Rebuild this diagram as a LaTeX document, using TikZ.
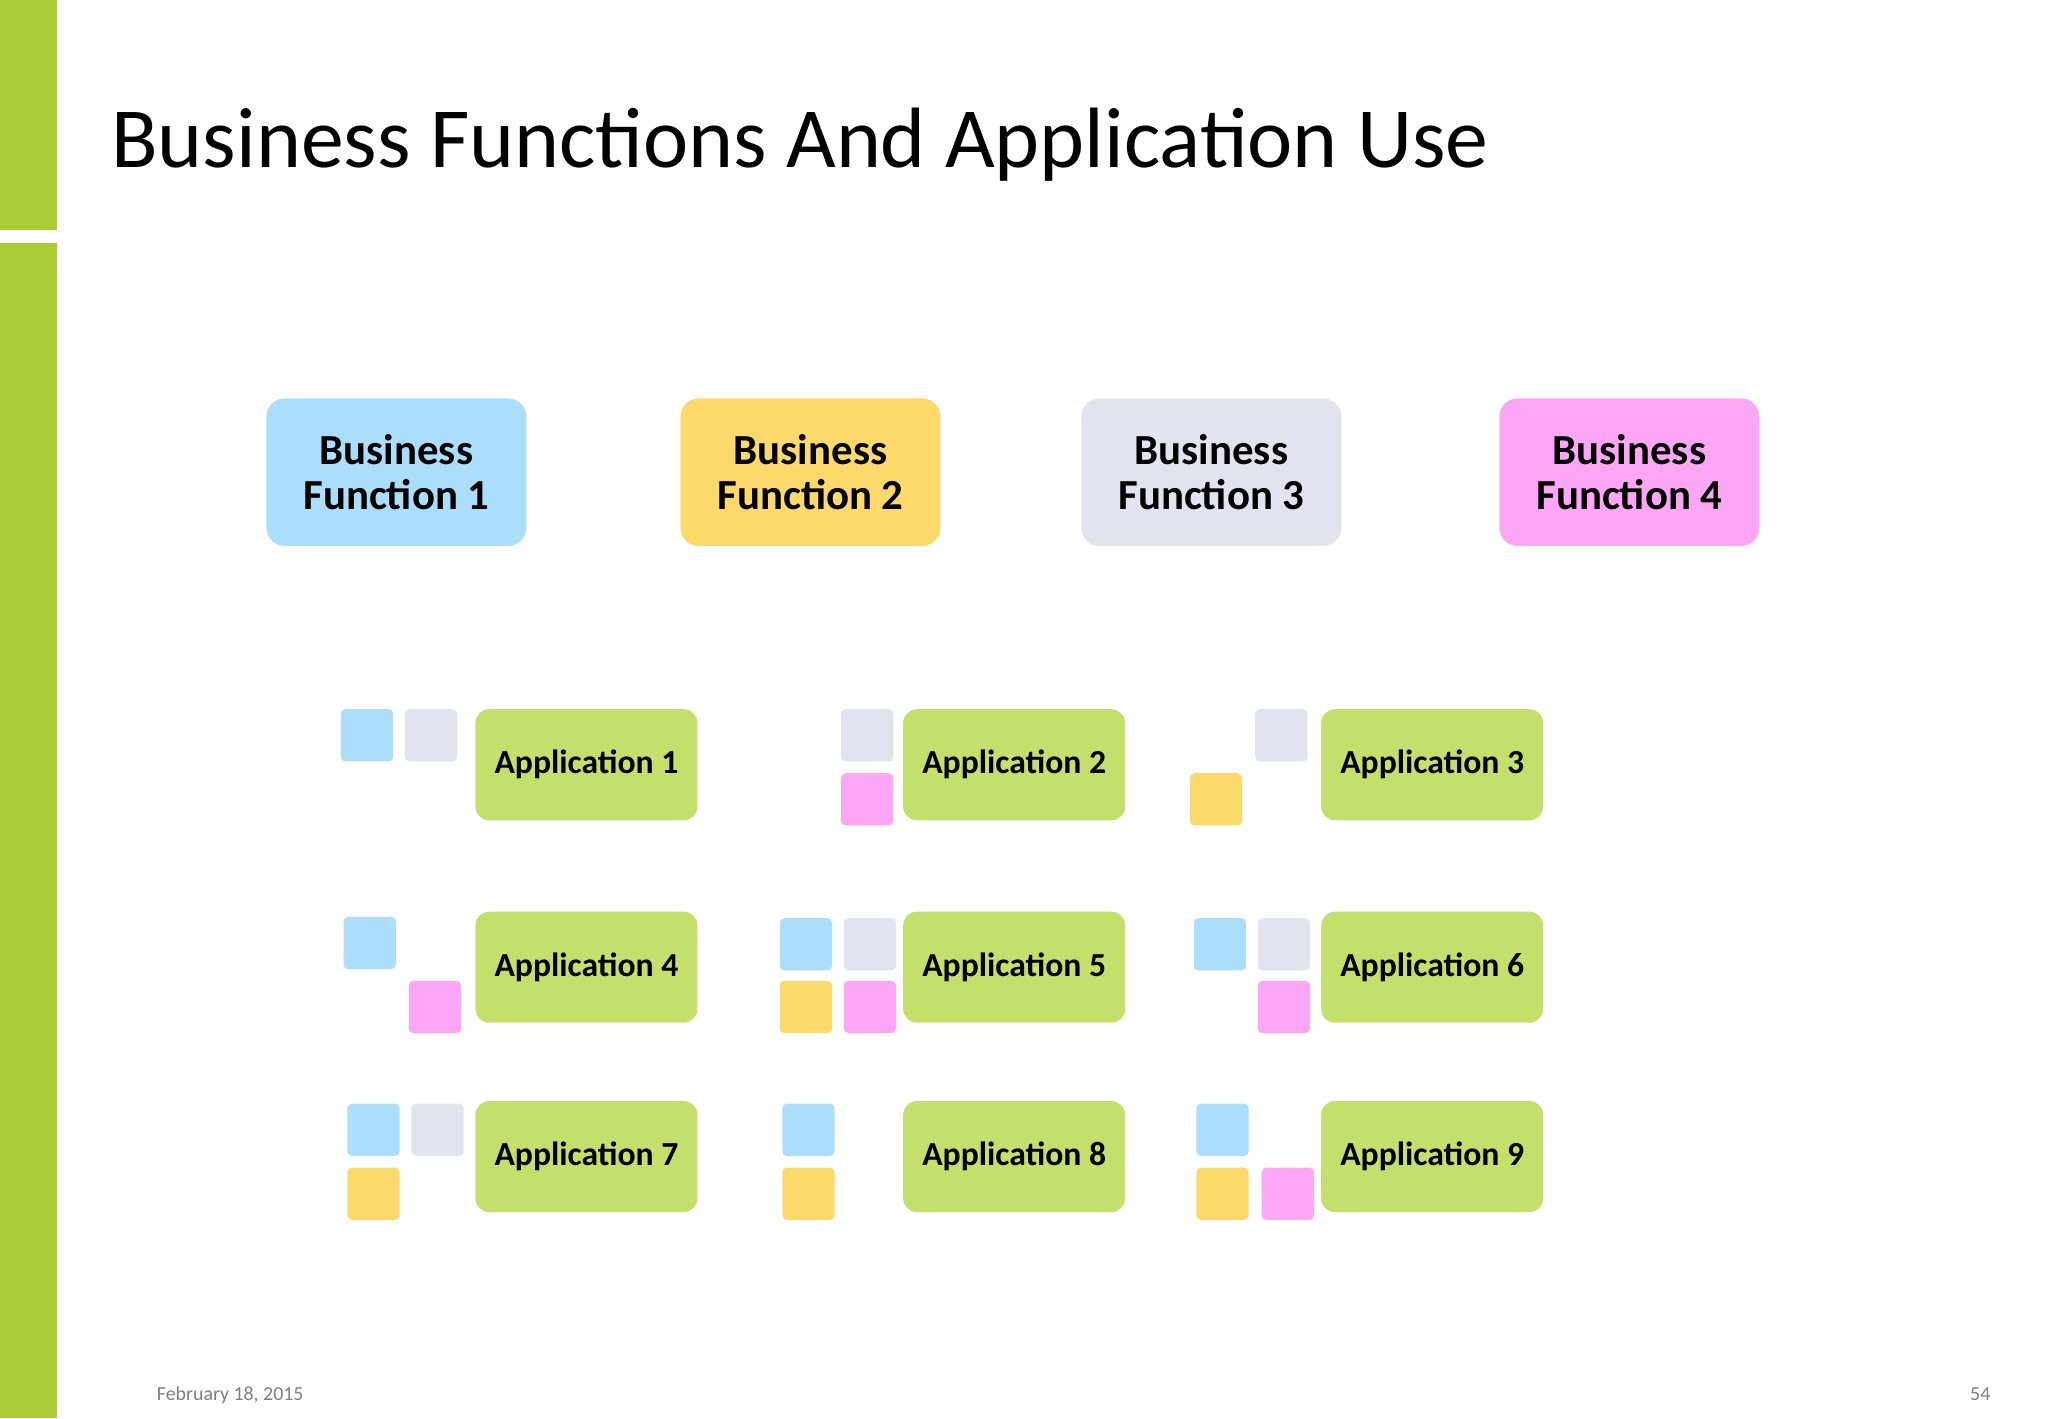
\documentclass[tikz,border=0pt]{standalone}
\usepackage{fontspec}
\setmainfont{Carlito}
\definecolor{bar}{HTML}{A9CC37}
\definecolor{cb}{HTML}{AADEFA}
\definecolor{cy}{HTML}{FDD96B}
\definecolor{cg}{HTML}{E1E4EE}
\definecolor{cp}{HTML}{FDA6F6}
\definecolor{ca}{HTML}{C4DF6B}
\begin{document}
\begin{tikzpicture}[x=0.3mm,y=-0.3mm,
  bf/.style={rounded corners=12pt,minimum width=199*0.3mm,minimum height=113*0.3mm,align=center,font=\fontsize{28}{29}\selectfont\bfseries,inner sep=0pt},
  app/.style={fill=ca,rounded corners=9pt,minimum width=170*0.3mm,minimum height=85*0.3mm,font=\fontsize{22}{24}\selectfont\bfseries,inner sep=0pt},
  sq/.style={rounded corners=3pt,minimum size=40*0.3mm,inner sep=0pt}]
\useasboundingbox (0,0) rectangle (1568,1086);
\fill[white] (0,0) rectangle (1568,1086);
\fill[bar] (0,0) rectangle (44,176);
\fill[bar] (0,186) rectangle (44,1086);
\node[anchor=base west,inner sep=0pt,font=\fontsize{56}{60}\selectfont] (title) at (85,128) {Business Functions And Application Use};
\node[bf,fill=cb] (b1) at (303.5,361.5) {Business\\Function 1};
\node[bf,fill=cy] (b2) at (620.5,361.5) {Business\\Function 2};
\node[bf,fill=cg] (b3) at (927.5,361.5) {Business\\Function 3};
\node[bf,fill=cp] (b4) at (1247.5,361.5) {Business\\Function 4};
\foreach \n/\x/\y in {1/449/585.5,2/776.5/585.5,3/1096.5/585.5,4/449/740.5,5/776.5/740.5,6/1096.5/740.5,7/449/885.5,8/776.5/885.5,9/1096.5/885.5}
  \node[app] (a\n) at (\x,\y) {Application \n};
\foreach \c/\x/\y [count=\i] in {cb/281/563,cg/330/563,cg/664/563,cp/664/612,cg/981/563,cy/931/612,
  cb/283/722,cp/333/771,cb/617/723,cg/666/723,cy/617/771,cp/666/771,cb/934/723,cg/983/723,cp/983/771,
  cb/286/865,cg/335/865,cy/286/914,cb/619/865,cy/619/914,cb/936/865,cy/936/914,cp/986/914}
  \node[sq,fill=\c] (s\i) at (\x,\y) {};
\node[anchor=base west,text=gray,font=\fontsize{13}{14}\selectfont] (date) at (116,1072) {February 18, 2015};
\node[anchor=base east,text=gray,font=\fontsize{13}{14}\selectfont] (pg) at (1528,1072) {54};
\end{tikzpicture}
\end{document}
